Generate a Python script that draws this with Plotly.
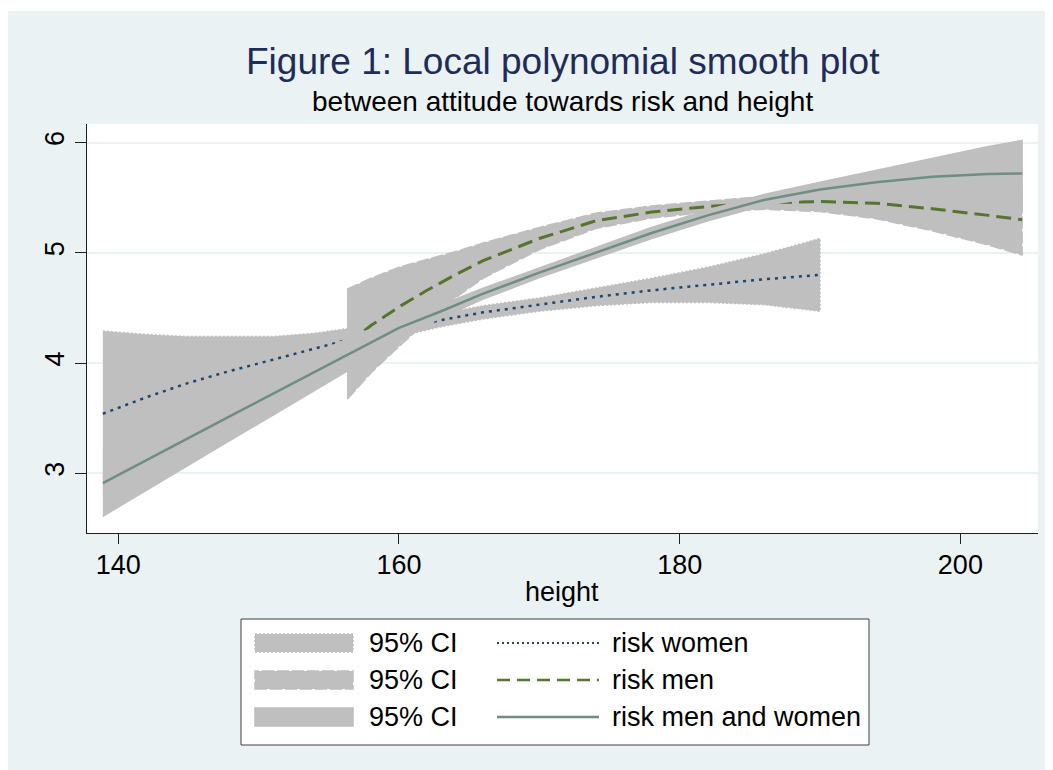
import plotly.graph_objects as go

# ---------------- data ----------------
women_x   = [138.9, 142, 145, 148, 151, 154, 156.3, 160, 163, 166, 170, 174, 178, 182, 186, 190]
women_fit = [3.54, 3.69, 3.82, 3.93, 4.03, 4.13, 4.21, 4.31, 4.39, 4.46, 4.53, 4.60, 4.66, 4.71, 4.76, 4.80]
women_lo  = [2.79, 3.12, 3.40, 3.62, 3.82, 3.99, 4.11, 4.24, 4.33, 4.40, 4.47, 4.52, 4.55, 4.55, 4.53, 4.47]
women_hi  = [4.29, 4.26, 4.24, 4.24, 4.24, 4.27, 4.31, 4.38, 4.45, 4.52, 4.59, 4.68, 4.77, 4.87, 4.99, 5.13]

men_x   = [156.3, 158, 160, 162, 164, 166, 170, 174, 178, 182, 186, 190, 194, 198, 202, 204.4]
men_fit = [4.17, 4.34, 4.51, 4.66, 4.80, 4.93, 5.13, 5.29, 5.37, 5.42, 5.455, 5.465, 5.45, 5.40, 5.34, 5.30]
men_lo  = [3.67, 3.91, 4.15, 4.38, 4.59, 4.77, 5.03, 5.22, 5.315, 5.37, 5.395, 5.375, 5.31, 5.20, 5.07, 4.98]
men_hi  = [4.67, 4.77, 4.87, 4.94, 5.01, 5.09, 5.23, 5.36, 5.425, 5.47, 5.515, 5.555, 5.59, 5.60, 5.61, 5.62]

all_x   = [138.9, 142, 145, 148, 151, 154, 157, 160, 163, 166, 170, 174, 178, 182, 186, 190, 194, 198, 202, 204.4]
all_fit = [2.91, 3.12, 3.32, 3.52, 3.72, 3.92, 4.12, 4.32, 4.47, 4.63, 4.82, 5.00, 5.18, 5.34, 5.48, 5.575, 5.64, 5.69, 5.715, 5.72]
all_lo  = [2.61, 2.85, 3.075, 3.30, 3.525, 3.75, 3.98, 4.24, 4.41, 4.58, 4.775, 4.955, 5.13, 5.29, 5.43, 5.51, 5.53, 5.52, 5.465, 5.42]
all_hi  = [3.21, 3.39, 3.565, 3.74, 3.915, 4.09, 4.26, 4.40, 4.53, 4.68, 4.865, 5.045, 5.23, 5.39, 5.53, 5.64, 5.75, 5.86, 5.965, 6.02]

series_names = ["risk women", "risk men", "risk men and women"]
ci_label = "95% CI"
x_ticks = [140, 160, 180, 200]
y_ticks = [3, 4, 5, 6]
title_text = "Figure 1: Local polynomial smooth plot"
subtitle_text = "between attitude towards risk and height"
x_title = "height"

# ---------------- styling ----------------
# the page body has an 8px margin, so the figure is 8px smaller than the window
OFF = 8
W, H = 1053 - OFF, 770 - OFF
L, R, T, B = 79, 15, 116, 237
PW = W - L - R
PH = H - T - B
FONT = "Liberation Sans, Arial, Helvetica, sans-serif"

CI_GRAY = "#BFBFBF"
NAVY = "#1A476F"
GREEN = "#55752F"
TEAL = "#6E8E84"
BG = "#EAF2F3"
TITLE_COL = "#1E2C5A"

WOMEN_DASH = "3px,5px"
MEN_DASH = "15px,7px"
WOMEN_EDGE = "2px,2px"
MEN_EDGE = "12px,3px"

TXT = 27


def px(sx):
    """screen x pixel -> paper coordinate"""
    return (sx - OFF - L) / PW


def py(sy):
    """screen y pixel -> paper coordinate"""
    return (H - B - (sy - OFF)) / PH


fig = go.Figure()


def add_band(x, lo, hi, dash, name):
    fig.add_trace(go.Scatter(
        x=list(x) + list(x)[::-1], y=list(hi) + list(lo)[::-1],
        fill="toself", fillcolor=CI_GRAY, mode="lines",
        line=dict(color=CI_GRAY, width=1.5, dash=dash),
        name=name, hoverinfo="skip", showlegend=False))


def add_line(x, y, color, width, dash, name):
    fig.add_trace(go.Scatter(
        x=x, y=y, mode="lines", name=name,
        line=dict(color=color, width=width, dash=dash),
        showlegend=False))


add_band(women_x, women_lo, women_hi, WOMEN_EDGE, ci_label)
add_line(women_x, women_fit, NAVY, 2.5, WOMEN_DASH, series_names[0])
add_band(men_x, men_lo, men_hi, MEN_EDGE, ci_label)
add_line(men_x, men_fit, GREEN, 3, MEN_DASH, series_names[1])
add_band(all_x, all_lo, all_hi, "solid", ci_label)
add_line(all_x, all_fit, TEAL, 2.5, "solid", series_names[2])

shapes = []
annotations = []

# thin white strip along the top of the graph region
shapes.append(dict(type="rect", xref="paper", yref="paper", layer="above",
                   x0=px(0), x1=px(1060), y0=py(11), y1=py(0),
                   fillcolor="white", line=dict(width=0)))

# titles
annotations.append(dict(text=title_text, xref="paper", yref="paper",
                        x=0.5, y=py(61), xanchor="center", yanchor="middle",
                        showarrow=False, font=dict(family=FONT, size=37, color=TITLE_COL)))
annotations.append(dict(text=subtitle_text, xref="paper", yref="paper",
                        x=0.5, y=py(101), xanchor="center", yanchor="middle",
                        showarrow=False, font=dict(family=FONT, size=28, color="black")))
annotations.append(dict(text=x_title, xref="paper", yref="paper",
                        x=px(562), y=py(592), xanchor="center", yanchor="middle",
                        showarrow=False, font=dict(family=FONT, size=TXT, color="black")))

# legend (drawn as a Stata-style key box)
shapes.append(dict(type="rect", xref="paper", yref="paper", layer="above",
                   x0=px(241), x1=px(869), y0=py(745), y1=py(619),
                   fillcolor="white", line=dict(color="#404040", width=1)))
row_y = [643, 680, 717]
edges = [WOMEN_EDGE, MEN_EDGE, "solid"]
line_styles = [(NAVY, 2, "2px,3px"), (GREEN, 2.5, "13px,7px"), (TEAL, 2.5, "solid")]
for i, ry in enumerate(row_y):
    shapes.append(dict(type="rect", xref="paper", yref="paper", layer="above",
                       x0=px(255), x1=px(353), y0=py(ry + 9), y1=py(ry - 9),
                       fillcolor=CI_GRAY, line=dict(color=CI_GRAY, width=1.5, dash=edges[i])))
    col, wd, ds = line_styles[i]
    shapes.append(dict(type="line", xref="paper", yref="paper", layer="above",
                       x0=px(497), x1=px(599), y0=py(ry), y1=py(ry),
                       line=dict(color=col, width=wd, dash=ds)))
    annotations.append(dict(text=ci_label, xref="paper", yref="paper",
                            x=px(367), y=py(ry), xanchor="left", yanchor="middle",
                            showarrow=False, font=dict(family=FONT, size=TXT, color="black")))
    annotations.append(dict(text=series_names[i], xref="paper", yref="paper",
                            x=px(610), y=py(ry), xanchor="left", yanchor="middle",
                            showarrow=False, font=dict(family=FONT, size=TXT, color="black")))

fig.update_layout(
    width=W, height=H,
    margin=dict(l=L, r=R, t=T, b=B, pad=0),
    paper_bgcolor=BG, plot_bgcolor="white",
    showlegend=False,
    font=dict(family=FONT, color="black"),
    shapes=shapes, annotations=annotations,
)
fig.update_xaxes(
    range=[137.77, 205.53], tickvals=x_ticks, ticktext=[str(v) for v in x_ticks],
    showgrid=False, zeroline=False,
    showline=True, linecolor="#202020", linewidth=1.2,
    ticks="outside", ticklen=10, tickcolor="#202020", tickwidth=1.2,
    ticklabelstandoff=-3,
    tickfont=dict(family=FONT, size=TXT, color="black"),
)
fig.update_yaxes(
    range=[2.458, 6.169], tickvals=y_ticks, ticktext=[str(v) for v in y_ticks],
    showgrid=True, gridcolor=BG, gridwidth=2, zeroline=False,
    showline=True, linecolor="#202020", linewidth=1.2,
    ticks="outside", ticklen=11, tickcolor="#202020", tickwidth=1.2,
    tickangle=-90,
    tickfont=dict(family=FONT, size=TXT, color="black"),
)

fig.write_html("out.html")
